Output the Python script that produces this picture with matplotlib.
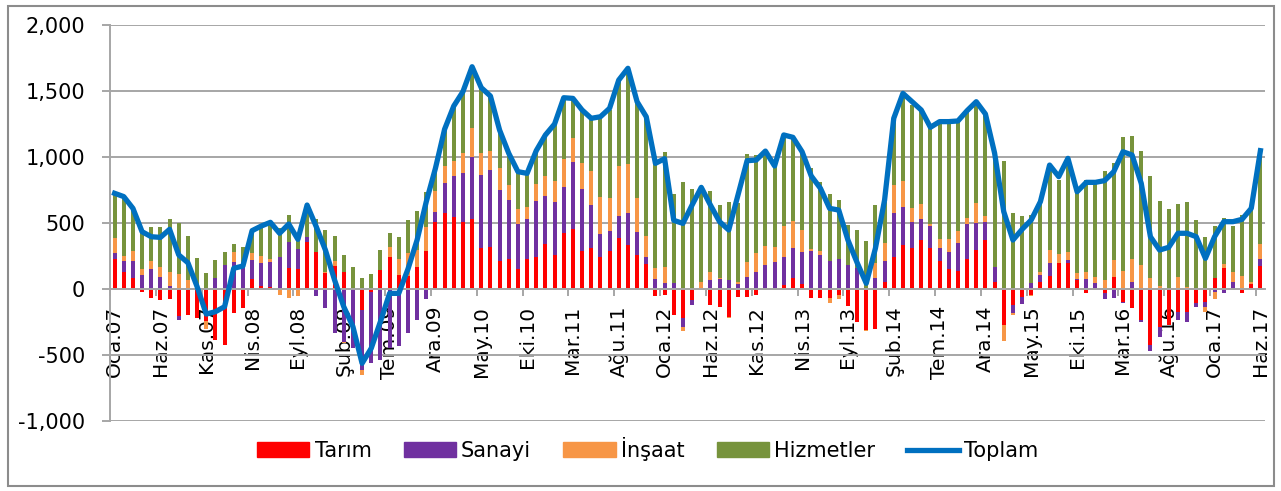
import matplotlib
matplotlib.use("Agg")
import matplotlib.pyplot as plt
from matplotlib.patches import Rectangle
from matplotlib.lines import Line2D
from matplotlib.ticker import FuncFormatter, MultipleLocator
import numpy as np

# monthly employment change, Oca.07 - Haz.17 (thousand persons)
months = ["Oca", "Şub", "Mar", "Nis", "May", "Haz", "Tem", "Ağu", "Eyl", "Eki", "Kas", "Ara"]
years = list(range(7, 18))
labels = [f"{m}.{y:02d}" for y in years for m in months][:126]

tarim = [225, 131, 86, -20, -71, -83, -78, -205, -197, -217,
         -240, -386, -424, -179, -146, 76, 25, 13, 0, 162,
         149, 359, 283, 119, 174, 126, 0, -159, -20, 144,
         240, 106, 101, 169, 290, 510, 578, 548, 510, 528,
         308, 321, 215, 227, 149, 230, 240, 338, 258, 422,
         452, 290, 313, 240, 290, 384, 333, 255, 192, -53,
         -48, -200, -222, -83, 0, -121, -139, -210, -63, -63,
         -45, 0, 0, 30, 81, 38, -71, -71, -66, -45,
         -129, -247, -311, -306, 56, 240, 333, 308, 371, 313,
         215, 149, 136, 227, 295, 371, 56, -273, -121, -58,
         -45, 56, 101, 194, 199, 68, -28, 0, -28, 93,
         -96, -146, -235, -424, -285, -273, -172, -172, -104, -96,
         81, 157, 0, -33, 35, 177]
sanayi = [50, 83, 129, 106, 152, 93, 23, -30, 0, 0,
          0, 81, 182, 207, 169, 144, 174, 194, 240, 197,
          152, 38, -53, -146, -336, -399, -449, -454, -538, -538,
          -449, -432, -336, -235, -78, 76, 222, 308, 371, 475,
          555, 581, 535, 447, 343, 300, 427, 366, 404, 353,
          513, 465, 323, 177, 149, 172, 240, 179, 48, 76,
          43, 43, -63, -38, 0, 68, 73, 68, 38, 93,
          131, 182, 207, 215, 227, 245, 290, 258, 215, 225,
          182, 157, 0, 81, 159, 333, 285, 202, 159, 167,
          98, 134, 210, 263, 207, 139, 114, 0, -58, -55,
          43, 50, 93, 0, 20, 8, 76, 43, -50, -71,
          -13, 50, -13, -43, -81, 0, -63, -76, -35, -43,
          -20, -28, 50, 0, 0, 50]
insaat = [109, 35, 73, 45, 58, 71, 109, 114, 68, 20,
          -60, 0, 0, 76, 0, 56, 50, 18, -45, -71,
          -53, 0, 0, 13, 35, -10, 0, -38, 0, 0,
          76, 119, 169, 126, 177, 159, 134, 114, 146, 215,
          164, 146, 164, 114, 111, 88, 129, 152, 157, 207,
          182, 197, 258, 278, 247, 376, 371, 253, 159, 81,
          126, 0, -30, 0, 56, 63, 10, -13, 15, 109,
          139, 144, 114, 232, 210, 164, 10, 33, -43, -33,
          0, 0, -8, 119, 131, 215, 199, 106, 114, 13,
          66, 96, 96, 45, 151, 43, 0, -119, -18, 0,
          -10, 20, 101, 71, 63, 43, 50, 50, 68, 126,
          139, 174, 182, 86, 25, 0, 88, 18, 0, -38,
          -58, 30, 81, 101, 15, 111]
hizmetler = [328, 440, 320, 290, 258, 303, 396, 384, 333, 215,
             119, 139, 101, 56, 152, 172, 230, 273, 225, 202,
             120, 240, 245, 316, 192, 131, 164, 81, 114, 152,
             106, 172, 250, 295, 265, 169, 290, 412, 455, 467,
             500, 409, 290, 240, 285, 258, 258, 295, 424, 482,
             285, 399, 394, 606, 669, 652, 727, 732, 909, 850,
             866, 680, 808, 760, 720, 611, 553, 593, 600, 821,
             745, 715, 619, 689, 624, 606, 614, 523, 502, 449,
             303, 290, 364, 437, 316, 492, 664, 778, 712, 725,
             876, 876, 838, 821, 752, 765, 860, 972, 573, 553,
             520, 535, 644, 561, 720, 636, 699, 720, 828, 732,
             1015, 934, 864, 773, 641, 606, 556, 641, 523, 391,
             400, 350, 346, 460, 548, 702]
toplam = [725, 700, 611, 434, 396, 391, 452, 258, 199, 18,
          -190, -172, -134, 157, 174, 442, 477, 505, 422, 492,
          376, 636, 472, 295, 68, -134, -285, -563, -449, -247,
          -33, -33, 150, 371, 661, 914, 1210, 1386, 1495, 1684,
          1525, 1462, 1204, 1028, 889, 876, 1048, 1167, 1250, 1449,
          1444, 1356, 1293, 1305, 1369, 1583, 1672, 1419, 1305, 952,
          987, 520, 497, 636, 770, 636, 510, 447, 710, 972,
          977, 1045, 932, 1167, 1149, 1040, 856, 763, 611, 598,
          371, 200, 43, 308, 674, 1293, 1482, 1419, 1356, 1225,
          1268, 1268, 1273, 1351, 1419, 1326, 1030, 586, 371, 452,
          523, 662, 939, 851, 990, 737, 808, 808, 821, 889,
          1040, 1015, 800, 396, 295, 316, 422, 422, 396, 232,
          396, 510, 510, 528, 611, 1048]

series = [("Tarım", tarim, "#FF0000"),
          ("Sanayi", sanayi, "#7030A0"),
          ("İnşaat", insaat, "#F79646"),
          ("Hizmetler", hizmetler, "#77933C")]

fig = plt.figure(figsize=(12.81, 4.91), dpi=100)
ax = fig.add_axes([110 / 1281, 1 - 421 / 491, (1265 - 110) / 1281, (421 - 25) / 491])

x = np.arange(len(labels))
pos = np.zeros(len(x))
neg = np.zeros(len(x))
for name, vals, col in series:
    v = np.array(vals, dtype=float)
    bottom = np.where(v >= 0, pos, neg)
    ax.bar(x, v, bottom=bottom, width=0.42, color=col, zorder=2)
    pos = np.where(v >= 0, pos + v, pos)
    neg = np.where(v < 0, neg + v, neg)

ax.plot(x, toplam, color="#0070C0", lw=3.8, zorder=3, solid_joinstyle="round")

grid_col = "#A6A6A6"
ax.set_ylim(-1000, 2000)
ax.set_xlim(-0.5, len(x) - 0.5)
ax.yaxis.set_major_locator(MultipleLocator(500))
ax.yaxis.set_major_formatter(FuncFormatter(lambda v, p: f"{v:,.0f}"))
ax.grid(axis="y", color=grid_col, lw=1.4, zorder=0)
ax.set_axisbelow(True)

for s in ["top", "right"]:
    ax.spines[s].set_visible(False)
ax.spines["left"].set_color(grid_col)
ax.spines["left"].set_linewidth(1.4)
ax.spines["bottom"].set_position(("data", 0))
ax.spines["bottom"].set_color(grid_col)
ax.spines["bottom"].set_linewidth(1.4)

ax.set_xticks(x[::5])
ax.set_xticklabels(labels[::5], rotation=90, fontsize=14.5)
ax.set_xticks(np.arange(-0.5, len(x), 5), minor=True)
ax.tick_params(axis="x", which="major", length=0, pad=12)
ax.tick_params(axis="x", which="minor", length=5, color=grid_col, width=1.4)
ax.tick_params(axis="y", length=6, color=grid_col, width=1.4, pad=12, labelsize=15)

handles = [Rectangle((0, 0), 1, 1, color=c) for _, _, c in series]
handles.append(Line2D([0], [0], color="#0070C0", lw=3.8))
names = [n for n, _, _ in series] + ["Toplam"]
fig.legend(handles, names, loc="center", bbox_to_anchor=(648 / 1281, 1 - 449 / 491), ncol=5,
           frameon=False, fontsize=15, handlelength=2.5, handleheight=0.72,
           columnspacing=1.55, handletextpad=0.25, borderpad=0)

fig.patches.append(Rectangle((8 / 1281, 5 / 491), 1266 / 1281, 480 / 491, transform=fig.transFigure,
                             fill=False, edgecolor="#8C8C8C", lw=1.5))

fig.savefig("out.png", dpi=100)
